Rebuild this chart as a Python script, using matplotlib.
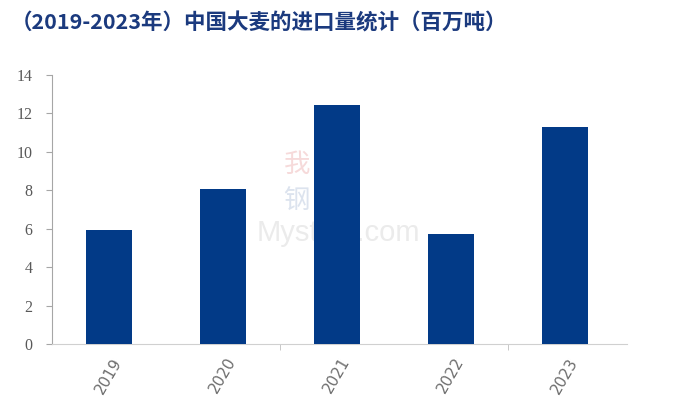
import matplotlib
matplotlib.use("Agg")
import matplotlib.pyplot as plt

years = ["2019", "2020", "2021", "2022", "2023"]
imports = [5.93, 8.07, 12.45, 5.72, 11.3]
yticks = [0, 2, 4, 6, 8, 10, 12, 14]
title = "（2019-2023年）中国大麦的进口量统计（百万吨）"

plt.rcParams['font.family'] = ['Noto Sans CJK SC', 'DejaVu Sans']

fig = plt.figure(figsize=(7.0, 4.19), dpi=100)
ax = fig.add_axes([0.0743, 0.179, 0.822, 0.642])

x = list(range(len(years)))
# watermark (behind bars)
ax.text(0.484, 0.445, "Mysteel.com", fontsize=21, color="#EBEBEB", ha="center",
        va="center", family="Liberation Sans", transform=fig.transFigure, zorder=1)
ax.text(0.424, 0.607, "我", fontsize=19, color="#F6DADA", ha="center", va="center",
        transform=fig.transFigure, zorder=1)
ax.text(0.424, 0.52, "钢", fontsize=19, color="#DCE3EE", ha="center", va="center",
        transform=fig.transFigure, zorder=1)

ax.bar(x, imports, width=0.4, color="#023A87", zorder=3)

ax.set_xlim(-0.5, len(years) - 0.45)
ax.set_ylim(0, 14)
ax.set_yticks(yticks)
ax.set_yticklabels([str(v) for v in yticks], family="Liberation Serif", fontsize=11.5, color="#595959")
ax.set_xticks(x)
ax.set_xticklabels(years, rotation=60, fontsize=11, color="#6E6E6E", family="DejaVu Sans",
                   ha="center", va="top")
ax.tick_params(axis="x", length=0, pad=8)
ax.set_xticks([1.5, 3.5], minor=True)
ax.tick_params(axis="x", which="minor", length=4, color="#BFBFBF", direction="out")
ax.tick_params(axis="y", length=4, color="#A6A6A6", direction="out", pad=10)

for s in ["top", "right"]:
    ax.spines[s].set_visible(False)
ax.spines["left"].set_color("#A6A6A6")
ax.spines["bottom"].set_color("#D0D0D0")

fig.text(0.015, 0.945, title, fontsize=15.5, fontweight="bold", color="#1B3A7E",
         ha="left", va="center")

fig.savefig("out.png", dpi=100)
